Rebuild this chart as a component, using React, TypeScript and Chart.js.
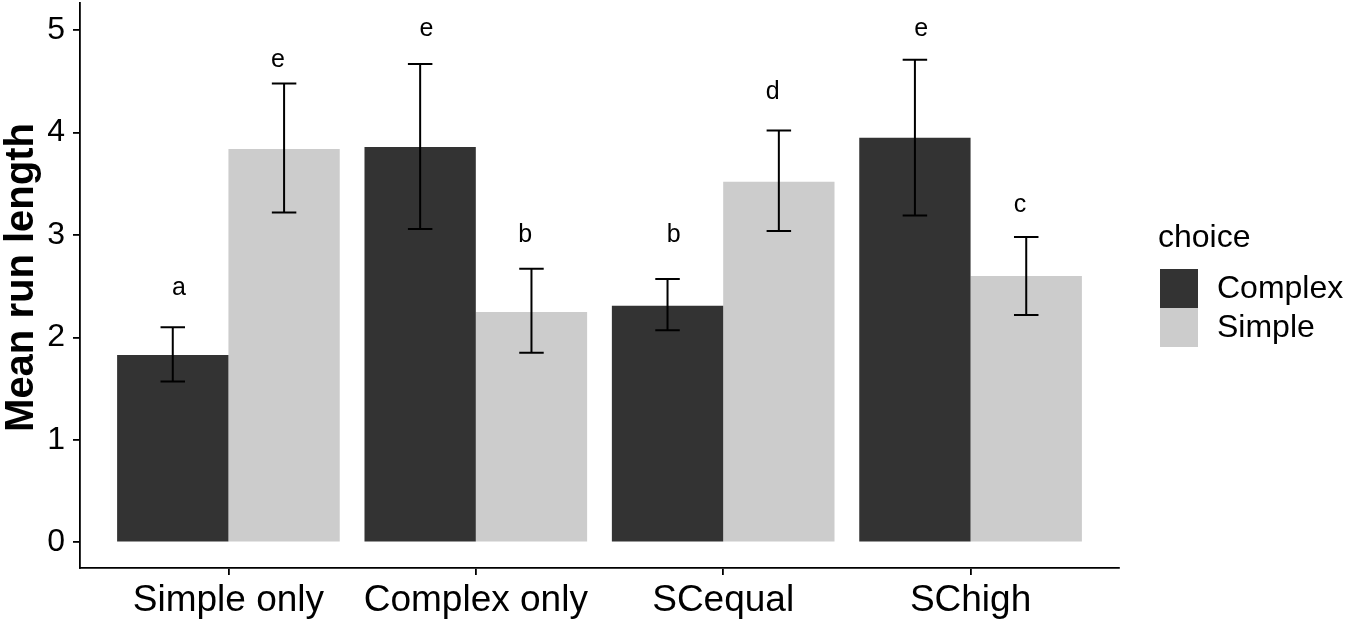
import React, { useEffect, useRef } from "react";
import { Chart, registerables } from "chart.js";

Chart.register(...registerables);

const categories = ["Simple only", "Complex only", "SCequal", "SChigh"];
const seriesNames = ["Complex", "Simple"];
const complexMeans = [1.83, 3.86, 2.31, 3.95];
const simpleMeans = [3.84, 2.25, 3.52, 2.6];
const complexLow = [1.57, 3.06, 2.07, 3.19];
const complexHigh = [2.1, 4.67, 2.57, 4.71];
const simpleLow = [3.22, 1.85, 3.04, 2.22];
const simpleHigh = [4.48, 2.67, 4.02, 2.98];
const complexLetters = ["a", "e", "b", "e"];
const simpleLetters = ["e", "b", "d", "c"];
const complexLetterY = [2.48, 5.01, 3.0, 5.01];
const simpleLetterY = [4.71, 3.0, 4.4, 3.29];
const yTicks = [0, 1, 2, 3, 4, 5];
const yTitle = "Mean run length";
const legendTitle = "choice";

const COLORS = ["#333333", "#cccccc"];
const FONT = "'Liberation Sans', Arial, Helvetica, sans-serif";

const overlayPlugin = {
  id: "overlay",
  afterDatasetsDraw(chart: any) {
    const ctx = chart.ctx;
    const xs = chart.scales.x;
    const ys = chart.scales.y;
    const lows = [complexLow, simpleLow];
    const highs = [complexHigh, simpleHigh];
    const letters = [complexLetters, simpleLetters];
    const letterY = [complexLetterY, simpleLetterY];
    ctx.save();
    for (let d = 0; d < 2; d++) {
      const meta = chart.getDatasetMeta(d);
      meta.data.forEach((bar: any, i: number) => {
        const x = bar.x;
        const yl = ys.getPixelForValue(lows[d][i]);
        const yh = ys.getPixelForValue(highs[d][i]);
        const half = bar.width * 0.11;
        ctx.strokeStyle = "#000";
        ctx.lineWidth = 2;
        ctx.lineCap = "butt";
        ctx.beginPath();
        ctx.moveTo(x, yl);
        ctx.lineTo(x, yh);
        ctx.moveTo(x - half, yl);
        ctx.lineTo(x + half, yl);
        ctx.moveTo(x - half, yh);
        ctx.lineTo(x + half, yh);
        ctx.stroke();
        const lx = xs.getPixelForValue(i + (d === 0 ? -0.2 : 0.2));
        const ly = ys.getPixelForValue(letterY[d][i]);
        ctx.fillStyle = "#000";
        ctx.font = `25px ${FONT}`;
        ctx.textAlign = "center";
        ctx.textBaseline = "middle";
        ctx.fillText(letters[d][i], lx, ly);
      });
    }
    ctx.restore();
  },
  afterDraw(chart: any) {
    const ctx = chart.ctx;
    const area = chart.chartArea;
    ctx.save();
    ctx.fillStyle = "#000";
    ctx.font = `bold 40px ${FONT}`;
    ctx.textAlign = "center";
    ctx.textBaseline = "alphabetic";
    ctx.translate(33, (area.top + area.bottom) / 2 - 8);
    ctx.rotate(-Math.PI / 2);
    ctx.fillText(yTitle, 0, 0);
    ctx.restore();

    ctx.save();
    const lx = area.right + 41;
    ctx.fillStyle = "#000";
    ctx.font = `32px ${FONT}`;
    ctx.textAlign = "left";
    ctx.textBaseline = "middle";
    ctx.fillText(legendTitle, lx - 2, 238);
    const sw = 38;
    const sh = 39;
    const top = 269;
    seriesNames.forEach((name, k) => {
      ctx.fillStyle = COLORS[k];
      ctx.fillRect(lx, top + k * sh, sw, sh);
      ctx.fillStyle = "#000";
      ctx.fillText(name, lx + 57, top + k * sh + sh / 2 + 1);
    });
    ctx.restore();
  },
};

export default function App() {
  const ref = useRef<HTMLCanvasElement | null>(null);
  useEffect(() => {
    if (!ref.current) return;
    const chart = new Chart(ref.current, {
      type: "bar",
      data: {
        datasets: [
          {
            label: seriesNames[0],
            data: complexMeans.map((v, i) => ({ x: i, y: v })),
            backgroundColor: COLORS[0],
            borderWidth: 0,
          },
          {
            label: seriesNames[1],
            data: simpleMeans.map((v, i) => ({ x: i, y: v })),
            backgroundColor: COLORS[1],
            borderWidth: 0,
          },
        ],
      },
      options: {
        animation: false,
        responsive: false,
        devicePixelRatio: 1,
        layout: { autoPadding: false, padding: { top: 3, right: 231, left: 0, bottom: 0 } },
        datasets: { bar: { categoryPercentage: 0.9, barPercentage: 1.0 } },
        plugins: { legend: { display: false }, tooltip: { enabled: false } },
        scales: {
          x: {
            type: "linear",
            min: -0.6,
            max: 3.6,
            offset: false,
            afterBuildTicks: (axis: any) => {
              axis.ticks = categories.map((_, i) => ({ value: i }));
            },
            afterFit: (scale: any) => {
              scale.height = 53;
              scale.paddingLeft = 0;
              scale.paddingRight = 0;
              scale.paddingTop = 0;
              scale.paddingBottom = 0;
            },
            ticks: {
              autoSkip: false,
              maxRotation: 0,
              color: "#000",
              padding: 4,
              font: { size: 37, family: FONT },
              callback: (v: any) => categories[Math.round(Number(v))] ?? "",
            },
            grid: {
              display: true,
              offset: false,
              drawOnChartArea: false,
              drawTicks: true,
              tickLength: 7,
              color: "#000",
              lineWidth: 1.8,
            },
            border: { display: true, color: "#000", width: 1.8 },
          },
          y: {
            type: "linear",
            min: -0.25,
            max: 5.265,
            afterBuildTicks: (axis: any) => {
              axis.ticks = yTicks.map((v) => ({ value: v }));
            },
            afterFit: (scale: any) => {
              scale.width = 80;
              scale.paddingLeft = 0;
              scale.paddingRight = 0;
              scale.paddingTop = 0;
              scale.paddingBottom = 0;
            },
            ticks: {
              color: "#000",
              padding: 8,
              font: { size: 32, family: FONT },
              callback: (v: any) => String(v),
            },
            grid: {
              display: true,
              drawOnChartArea: false,
              drawTicks: true,
              tickLength: 7,
              color: "#000",
              lineWidth: 1.8,
            },
            border: { display: true, color: "#000", width: 1.8 },
          },
        },
      },
      plugins: [overlayPlugin],
    } as any);
    return () => chart.destroy();
  }, []);
  return (
    <div style={{ position: "absolute", left: 0, top: 0, width: 1350, height: 621, background: "#fff" }}>
      <canvas ref={ref} width={1350} height={621} />
    </div>
  );
}
